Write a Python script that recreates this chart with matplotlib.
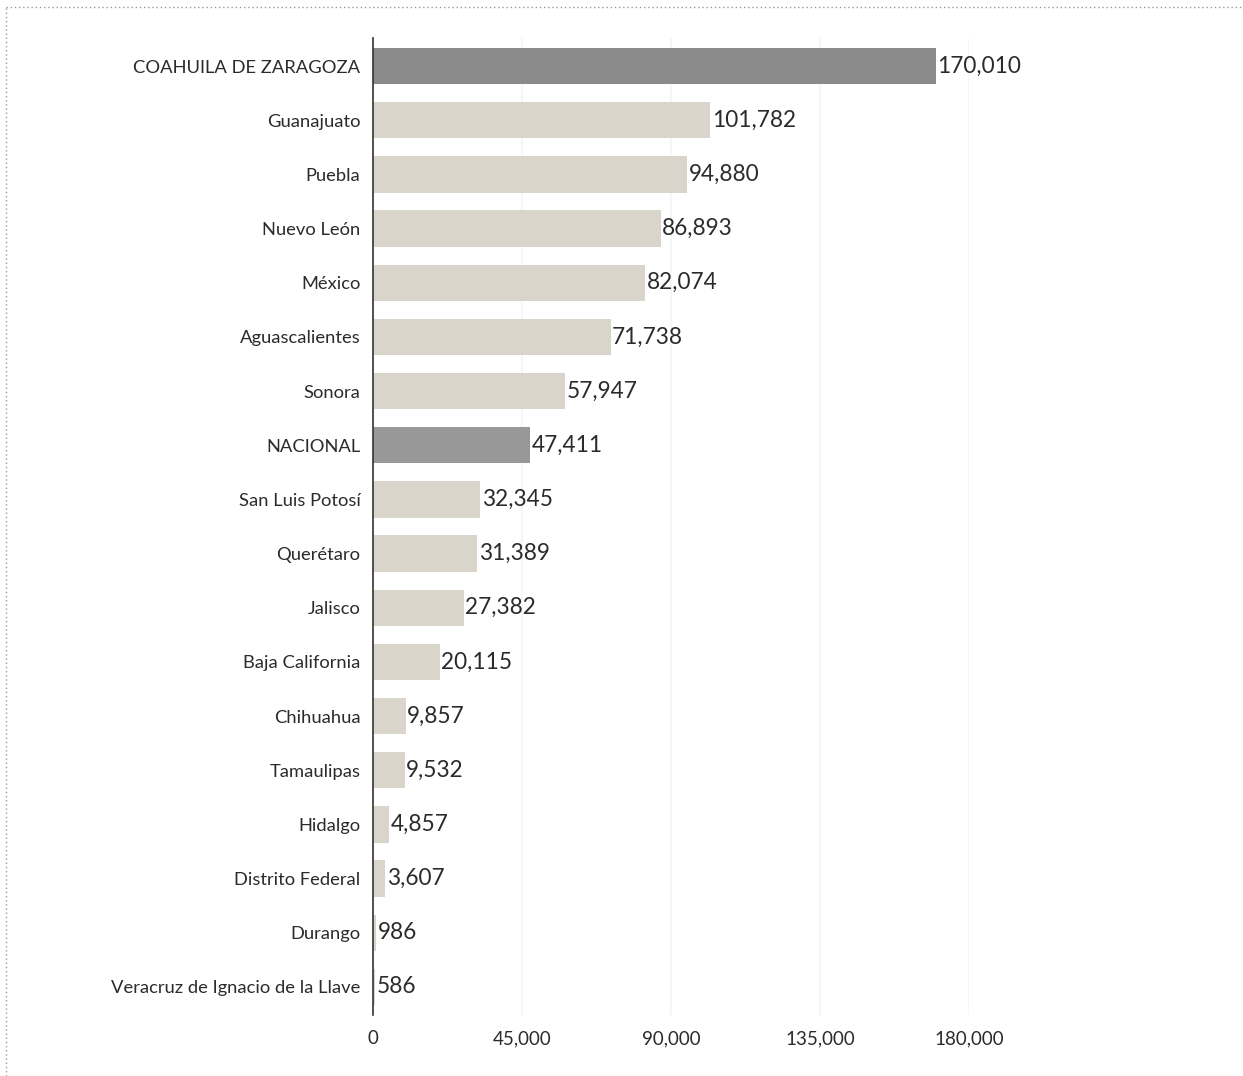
import matplotlib.pyplot as plt
from matplotlib.lines import Line2D

plt.rcParams['font.family'] = ['Lato', 'DejaVu Sans']

# Values
states = ['COAHUILA DE ZARAGOZA', 'Guanajuato', 'Puebla', 'Nuevo León', 'México',
          'Aguascalientes', 'Sonora', 'NACIONAL', 'San Luis Potosí', 'Querétaro',
          'Jalisco', 'Baja California', 'Chihuahua', 'Tamaulipas', 'Hidalgo',
          'Distrito Federal', 'Durango', 'Veracruz de Ignacio de la Llave']
values = [170010, 101782, 94880, 86893, 82074, 71738, 57947, 47411, 32345, 31389,
          27382, 20115, 9857, 9532, 4857, 3607, 986, 586]
highlight = {'COAHUILA DE ZARAGOZA': '#8a8a8a', 'NACIONAL': '#989898'}
x_ticks = [0, 45000, 90000, 135000, 180000]

BAR_COLOR = '#d9d5ca'
TEXT_COLOR = '#2b2b2b'

fig = plt.figure(figsize=(12.43, 10.76), dpi=100)
W, H = 1243, 1076
ax = fig.add_axes([373 / W, 1 - 1015 / H, (969 - 373) / W, (1015 - 38) / H])

pos = list(range(len(states)))
colors = [highlight.get(s, BAR_COLOR) for s in states]
ax.barh(pos, values, height=0.67, color=colors, zorder=2)

for y, v in zip(pos, values):
    ax.text(v + 500, y, f'{v:,}', va='center', ha='left', fontsize=16.3,
            color=TEXT_COLOR, clip_on=False)

ax.set_xlim(0, 180000)
ax.set_ylim(len(states) - 0.5 + 0.02, -0.52)
ax.set_yticks(pos)
ax.set_yticklabels(states, fontsize=13.2, color=TEXT_COLOR)
ax.set_xticks(x_ticks)
ax.set_xticklabels([f'{t:,}' for t in x_ticks], fontsize=13.5, color=TEXT_COLOR)
ax.tick_params(axis='y', length=0, pad=9)
ax.tick_params(axis='x', length=0, pad=11)

for s in ['top', 'right', 'bottom']:
    ax.spines[s].set_visible(False)
ax.spines['left'].set_color('#333333')
ax.spines['left'].set_linewidth(1.2)
ax.spines['left'].set_zorder(3)

ax.xaxis.grid(True, color='#f6f6f6', linewidth=1.5, zorder=0)
ax.set_axisbelow(True)

# dotted frame on top and left of the figure
fig.add_artist(Line2D([6 / W, 1], [1 - 7 / H, 1 - 7 / H], transform=fig.transFigure,
                      color='#999999', linewidth=1, linestyle=(0, (1, 2))))
fig.add_artist(Line2D([6 / W, 6 / W], [0, 1 - 7 / H], transform=fig.transFigure,
                      color='#999999', linewidth=1, linestyle=(0, (1, 2))))

fig.savefig('out.png', dpi=100, facecolor='white')
